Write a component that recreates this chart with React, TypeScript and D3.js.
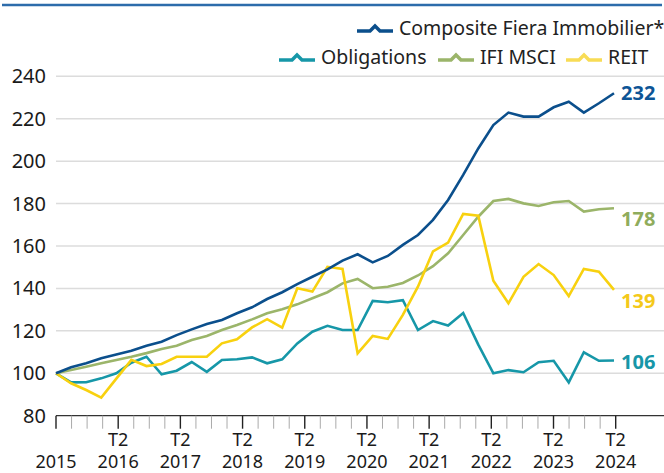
import React, { useEffect, useRef } from 'react';
import * as d3 from 'd3';

// quarterly index values, base 100
const composite = [100, 102.8, 104.7, 107.1, 108.9, 110.6, 113, 114.9, 118, 120.7, 123.2, 125.1, 128.3, 131.1, 135, 138.2, 142, 145.5, 149, 153.1, 156.1, 152.3, 155.3, 160.5, 165.2, 172.3, 181.7, 193.5, 206, 217, 222.9, 221, 221, 225.4, 228, 222.9, 227.3, 232];
const obligations = [100, 95.7, 95.8, 97.6, 100, 105, 107.8, 99.5, 101.2, 105.3, 100.7, 106.3, 106.6, 107.5, 104.7, 106.6, 114.1, 119.6, 122.4, 120.4, 120.4, 134.1, 133.5, 134.5, 120.4, 124.6, 122.5, 128.4, 113.5, 100, 101.5, 100.5, 105.2, 105.9, 95.7, 109.9, 105.9, 106];
const ifiMsci = [100, 101.5, 103.1, 104.7, 106.3, 107.8, 109.5, 111.4, 113, 115.7, 117.6, 120.4, 122.8, 125.4, 128.3, 130.2, 132.5, 135.4, 138.2, 142.4, 144.5, 140.1, 140.8, 142.6, 146.1, 150.5, 156.6, 165.2, 173.8, 181.2, 182.2, 180.1, 178.9, 180.6, 181.2, 176.2, 177.3, 177.8];
const reit = [100, 95.3, 92.1, 88.5, 97.5, 106.3, 103.4, 104.4, 107.8, 107.8, 107.8, 114.1, 116, 121.6, 125.5, 121.5, 140.1, 138.5, 150.2, 149.2, 109.4, 117.6, 116.2, 127.5, 140.8, 157.5, 161.6, 175.1, 174.3, 143.6, 133, 145.5, 151.5, 146.3, 136.4, 149.2, 147.9, 139.3];

const years = ['2015', '2016', '2017', '2018', '2019', '2020', '2021', '2022', '2023', '2024'];
const yTicks = [80, 100, 120, 140, 160, 180, 200, 220, 240];

const series = [
  { name: 'Obligations', values: obligations, color: '#1697a8', label: '106', dy: 1 },
  { name: 'IFI MSCI', values: ifiMsci, color: '#9bb56a', label: '178', dy: 11 },
  { name: 'REIT', values: reit, color: '#f8d10f', label: '139', dy: 11 },
  { name: 'Composite Fiera Immobilier*', values: composite, color: '#0b4f8c', label: '232', dy: 0 },
];
const labelColors = { Obligations: '#1796a8', 'IFI MSCI': '#8fac5c', REIT: '#f4c91a', 'Composite Fiera Immobilier*': '#0d5596' };

const W = 664;
const H = 473;
const FONT = '"Noto Sans", sans-serif';

const App = () => {
  const ref = useRef(null);

  useEffect(() => {
    const svg = d3.select(ref.current);
    svg.selectAll('*').remove();

    const y = d3.scaleLinear().domain([80, 240]).range([415.7, 76.3]);
    const x = d3.scaleLinear().domain([0, composite.length - 1]).range([56, 614]);
    // tick grid is one quarter shorter than the data
    const xt = d3.scaleLinear().domain([0, 36]).range([56, 615.7]);

    // top rule
    svg.append('line')
      .attr('x1', 2).attr('x2', 662).attr('y1', 5).attr('y2', 5)
      .attr('stroke', '#2d6cab').attr('stroke-width', 2.5);

    // grid
    svg.selectAll('.grid')
      .data(yTicks.filter(d => d > 80))
      .enter().append('line')
      .attr('x1', 56).attr('x2', W)
      .attr('y1', d => y(d)).attr('y2', d => y(d))
      .attr('stroke', '#dcdcdc').attr('stroke-width', 1.5);

    svg.selectAll('.ylab')
      .data(yTicks)
      .enter().append('text')
      .attr('x', 46).attr('y', d => y(d) + 7)
      .attr('text-anchor', 'end')
      .style('font-family', FONT).style('font-size', '20px').style('fill', '#1a1a1a')
      .text(d => d);

    // x axis
    svg.append('line')
      .attr('x1', 56).attr('x2', W).attr('y1', y(80)).attr('y2', y(80))
      .attr('stroke', '#333').attr('stroke-width', 1.3);

    svg.selectAll('.xtick')
      .data(d3.range(37))
      .enter().append('line')
      .attr('x1', d => xt(d)).attr('x2', d => xt(d))
      .attr('y1', y(80)).attr('y2', y(80) + 13)
      .attr('stroke', d => (d % 4 === 0 ? '#222' : '#aaa'))
      .attr('stroke-width', d => (d % 4 === 0 ? 1.4 : 1));

    svg.selectAll('.t2')
      .data(years.slice(1))
      .enter().append('text')
      .attr('x', (d, i) => xt((i + 1) * 4)).attr('y', 446)
      .attr('text-anchor', 'middle')
      .style('font-family', FONT).style('font-size', '18px').style('fill', '#1a1a1a')
      .text('T2');

    svg.selectAll('.year')
      .data(years)
      .enter().append('text')
      .attr('x', (d, i) => xt(i * 4)).attr('y', 468)
      .attr('text-anchor', 'middle')
      .style('font-family', FONT).style('font-size', '18px').style('fill', '#1a1a1a')
      .text(d => d);

    // lines
    const line = d3.line().x((d, i) => x(i)).y(d => y(d));
    series.forEach(s => {
      svg.append('path')
        .attr('d', line(s.values))
        .attr('fill', 'none')
        .attr('stroke', s.color)
        .attr('stroke-width', 2.6)
        .attr('stroke-linejoin', 'miter');

      svg.append('text')
        .attr('x', 621)
        .attr('y', y(s.values[s.values.length - 1]) + s.dy + 7)
        .style('font-family', FONT).style('font-size', '20px').style('font-weight', 'bold')
        .style('fill', labelColors[s.name])
        .text(s.label);
    });

    // legend
    const legend = [
      { s: series[3], x: 357, y: 28 },
      { s: series[0], x: 279, y: 57 },
      { s: series[1], x: 438, y: 57 },
      { s: series[2], x: 566, y: 57 },
    ];
    legend.forEach(l => {
      const g = svg.append('g').attr('transform', `translate(${l.x},${l.y})`);
      g.append('path')
        .attr('d', 'M0,3 H13 L18,-2 L23,3 H36')
        .attr('fill', 'none')
        .attr('stroke', l.s.color === '#f8d10f' ? '#f8dc55' : l.s.color)
        .attr('stroke-width', 3.5);
      g.append('text')
        .attr('x', 42).attr('y', 7)
        .style('font-family', FONT).style('font-size', '19.5px').style('fill', '#222')
        .text(l.s.name);
    });
  }, []);

  return (
    <svg ref={ref} width={W} height={H}
      style={{ position: 'absolute', left: 0, top: 0, background: '#fff', display: 'block' }} />
  );
};

export default App;
